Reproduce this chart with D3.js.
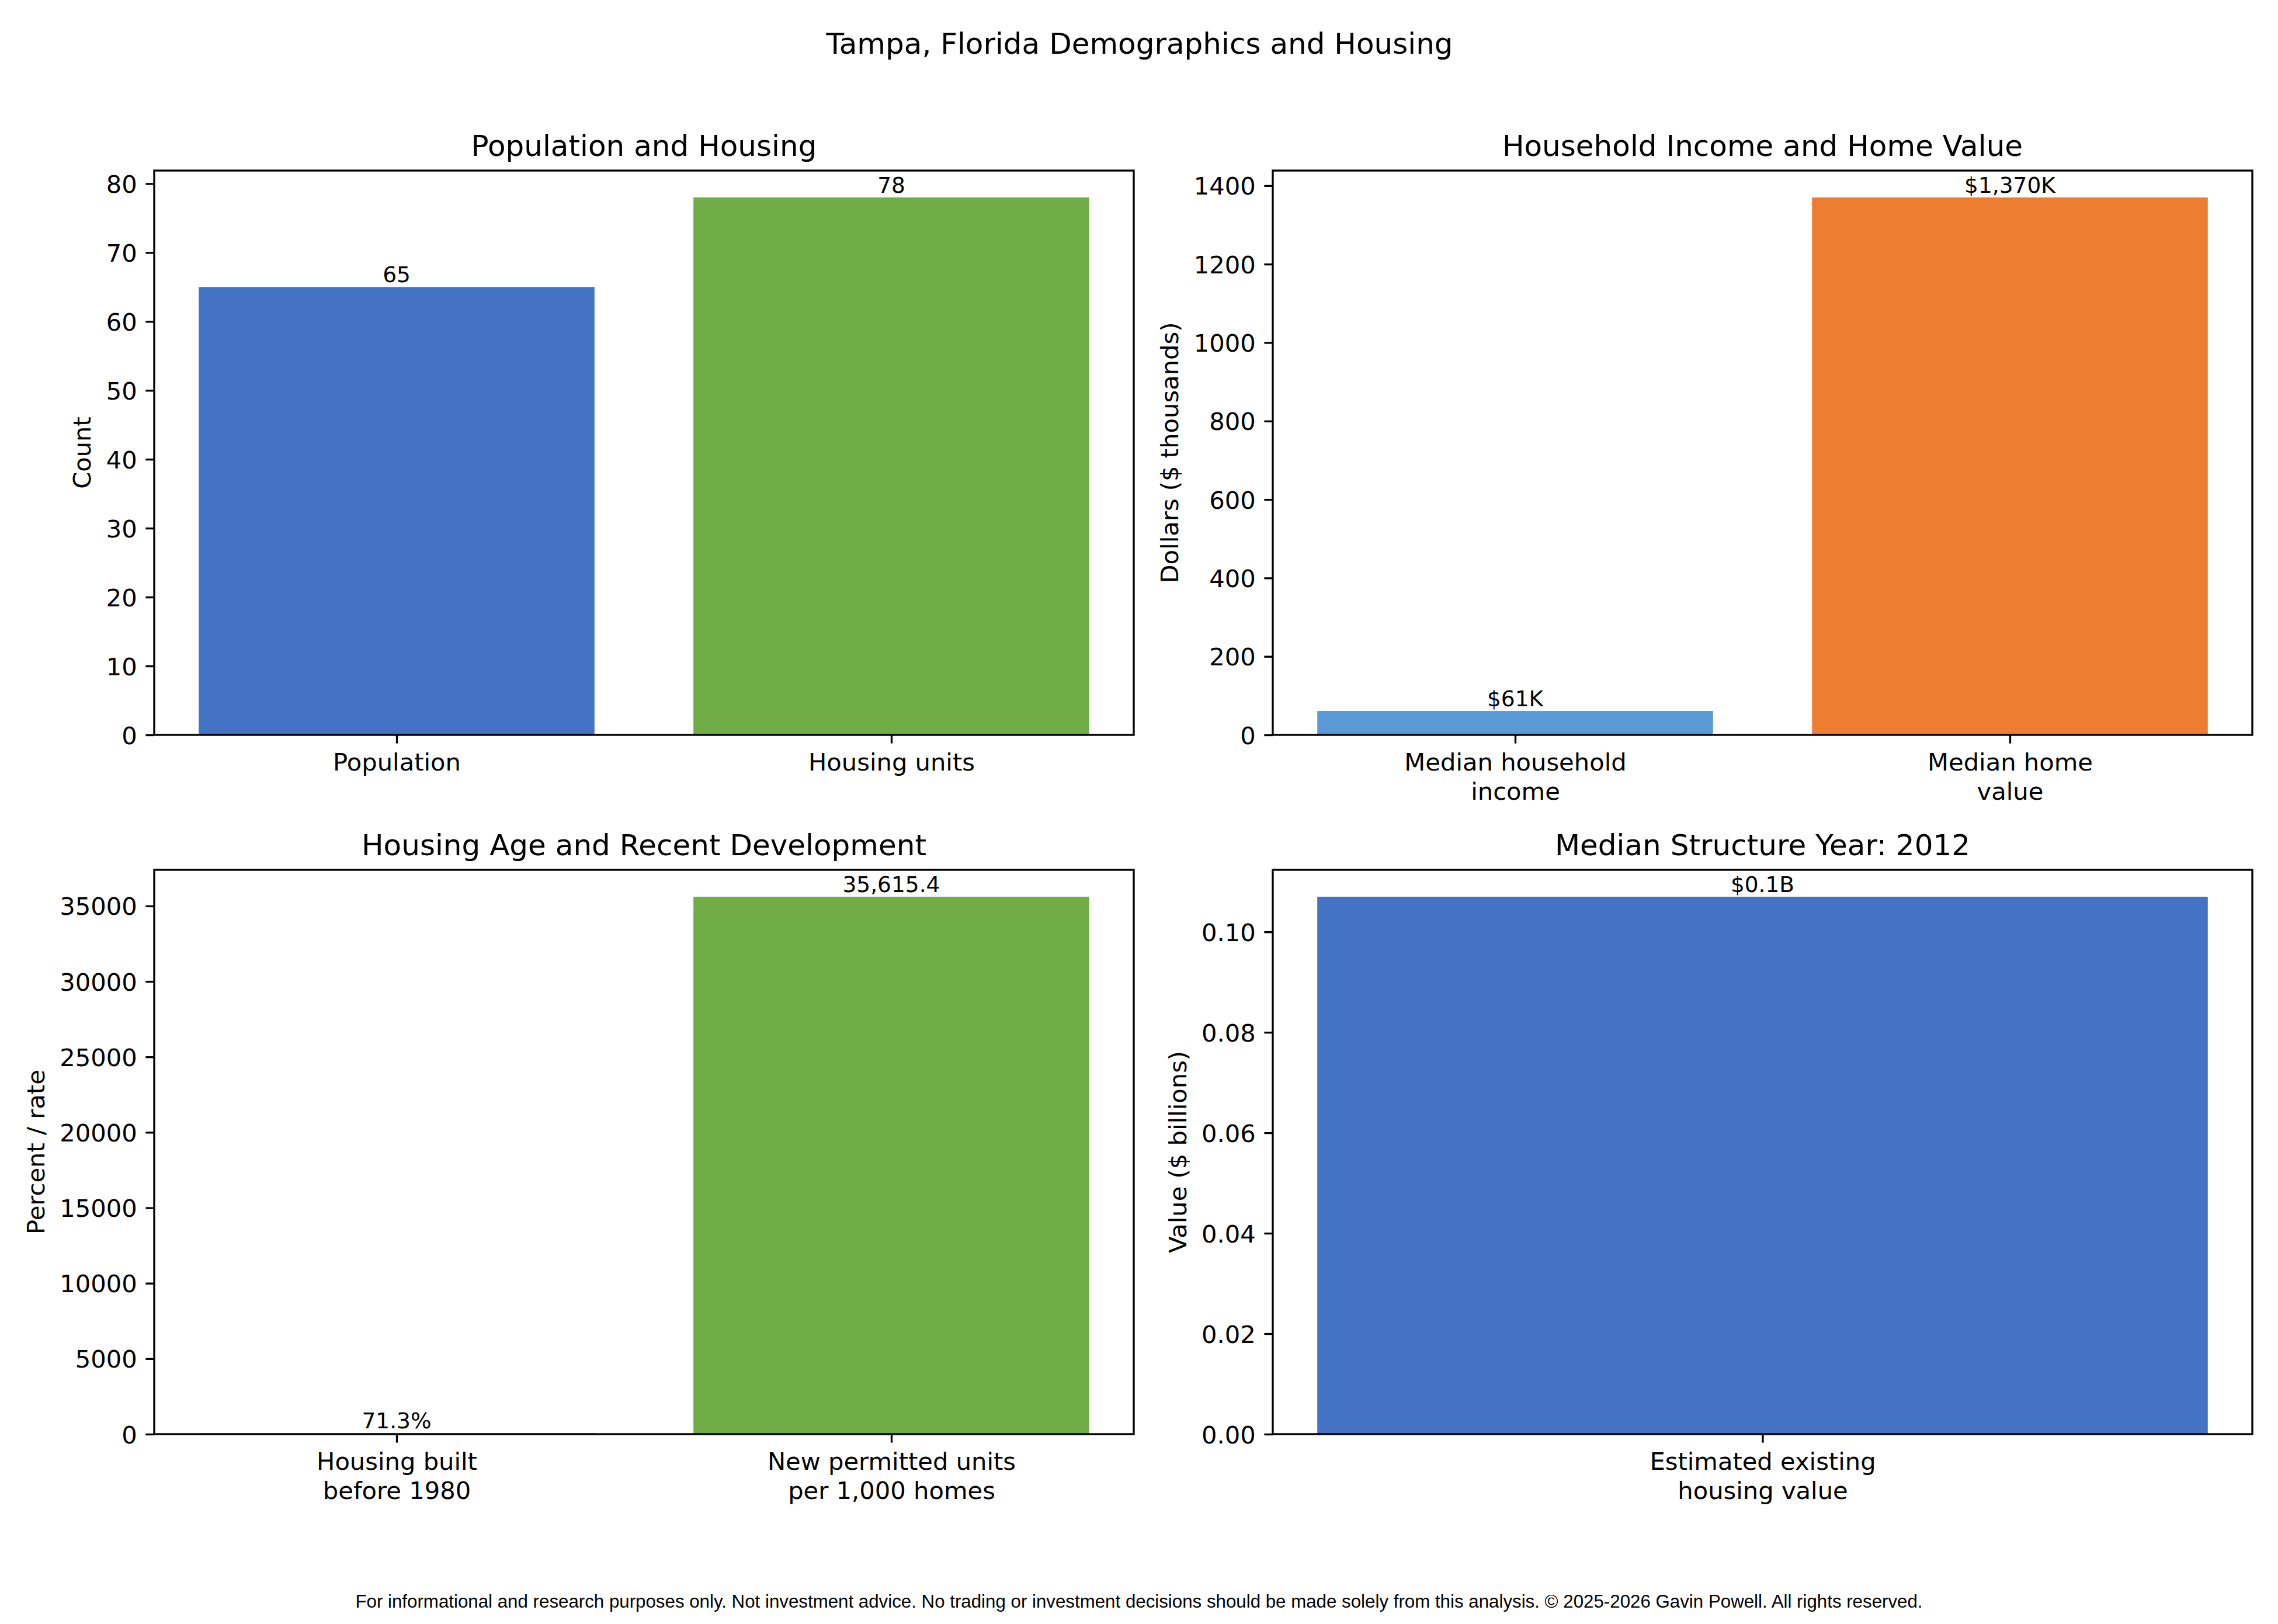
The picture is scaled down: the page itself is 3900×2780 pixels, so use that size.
<!DOCTYPE html>
<html>
<head>
<meta charset="utf-8">
<script src="https://cdn.jsdelivr.net/npm/d3@7"></script>
<style>
  body { margin: 0; background: #fff; }
  svg text { font-family: 'DejaVu Sans', sans-serif; fill: #000; }
  svg text.footer { font-family: 'Liberation Sans', Arial, sans-serif; }
</style>
</head>
<body>
<script>
// figure was saved at 300 dpi, so 1pt = 300/72 px
const W = 3900, H = 2780
const PT = 300 / 72

const suptitle = 'Tampa, Florida Demographics and Housing'
const footer = 'For informational and research purposes only. Not investment advice. No trading or investment decisions should be made solely from this analysis. \u00a9 2025-2026 Gavin Powell. All rights reserved.'

// top left
const popCats = ['Population', 'Housing units']
const popVals = [65, 78]
const popLabels = ['65', '78']
const popColors = ['#4472C4', '#70AD47']
const popTicks = [0, 10, 20, 30, 40, 50, 60, 70, 80]

// top right
const incomeCats = ['Median household\nincome', 'Median home\nvalue']
const incomeVals = [61, 1370]
const incomeLabels = ['$61K', '$1,370K']
const incomeColors = ['#5B9BD5', '#ED7D31']
const incomeTicks = [0, 200, 400, 600, 800, 1000, 1200, 1400]

// bottom left
const ageCats = ['Housing built\nbefore 1980', 'New permitted units\nper 1,000 homes']
const ageVals = [71.3, 35615.4]
const ageLabels = ['71.3%', '35,615.4']
const ageColors = ['#A5A5A5', '#70AD47']
const ageTicks = [0, 5000, 10000, 15000, 20000, 25000, 30000, 35000]

// bottom right
const valueCats = ['Estimated existing\nhousing value']
const valueVals = [0.107]
const valueLabels = ['$0.1B']
const valueColors = ['#4472C4']
const valueTicks = [0, 0.02, 0.04, 0.06, 0.08, 0.10]

const panels = [
  { title: 'Population and Housing', ylabel: 'Count', cats: popCats, vals: popVals,
    labels: popLabels, colors: popColors, ticks: popTicks, fmt: d3.format('d'), col: 0, row: 0 },
  { title: 'Household Income and Home Value', ylabel: 'Dollars ($ thousands)', cats: incomeCats, vals: incomeVals,
    labels: incomeLabels, colors: incomeColors, ticks: incomeTicks, fmt: d3.format('d'), col: 1, row: 0 },
  { title: 'Housing Age and Recent Development', ylabel: 'Percent / rate', cats: ageCats, vals: ageVals,
    labels: ageLabels, colors: ageColors, ticks: ageTicks, fmt: d3.format('d'), col: 0, row: 1 },
  { title: 'Median Structure Year: 2012', ylabel: 'Value ($ billions)', cats: valueCats, vals: valueVals,
    labels: valueLabels, colors: valueColors, ticks: valueTicks, fmt: d3.format('.2f'), col: 1, row: 1 }
]

const colLeft = [264, 2179]
const rowTop = [292, 1489]
const colW = 1677
const rowH = 966

const barW = 0.8
const tickLen = 3.5 * PT
const tickPad = 3.5 * PT
const lw = 0.8 * PT

const svg = d3.select('body').append('svg')
  .attr('width', W)
  .attr('height', H)
  .style('background', '#fff')

svg.append('text')
  .attr('x', 1951)
  .attr('y', 92)
  .attr('text-anchor', 'middle')
  .style('font-size', 12 * PT + 'px')
  .text(suptitle)

panels.forEach(p => {
  var g = svg.append('g')
    .attr('transform', 'translate(' + colLeft[p.col] + ',' + rowTop[p.row] + ')')

  // bars sit at 0..n-1, width 0.8, with 5% margins on the data range
  var n = p.cats.length
  var m = 0.05 * (n - 1 + barW)
  var x = d3.scaleLinear()
    .domain([-barW / 2 - m, n - 1 + barW / 2 + m])
    .range([0, colW])

  var y = d3.scaleLinear()
    .domain([0, d3.max(p.vals) * 1.05])
    .range([rowH, 0])

  g.selectAll('rect.bar')
    .data(p.vals)
    .join('rect')
      .attr('class', 'bar')
      .attr('x', (d, i) => x(i - barW / 2))
      .attr('width', (d, i) => x(i + barW / 2) - x(i - barW / 2))
      .attr('y', d => y(d))
      .attr('height', d => rowH - y(d))
      .attr('fill', (d, i) => p.colors[i])

  g.selectAll('text.barlabel')
    .data(p.vals)
    .join('text')
      .attr('class', 'barlabel')
      .attr('x', (d, i) => x(i))
      .attr('y', d => y(d) - 8)
      .attr('text-anchor', 'middle')
      .style('font-size', 9 * PT + 'px')
      .text((d, i) => p.labels[i])

  // y axis
  var yg = g.append('g')
    .call(d3.axisLeft(y)
      .tickValues(p.ticks)
      .tickFormat(p.fmt)
      .tickSize(tickLen)
      .tickPadding(tickPad))
    .attr('font-size', null)
    .attr('font-family', null)
  yg.select('.domain').remove()
  yg.selectAll('.tick line').attr('stroke', '#000').attr('stroke-width', lw)
  yg.selectAll('.tick text')
    .attr('dy', '0.36em')
    .style('font-size', 10 * PT + 'px')

  // x axis, labels can wrap on '\n'
  var xg = g.append('g')
    .attr('transform', 'translate(0,' + rowH + ')')
    .call(d3.axisBottom(x)
      .tickValues(d3.range(n))
      .tickFormat(i => p.cats[i])
      .tickSize(tickLen)
      .tickPadding(tickPad))
    .attr('font-size', null)
    .attr('font-family', null)
  xg.select('.domain').remove()
  xg.selectAll('.tick line').attr('stroke', '#000').attr('stroke-width', lw)
  xg.selectAll('.tick text').each(function(i) {
    var t = d3.select(this)
      .attr('dy', null)
      .style('font-size', 10 * PT + 'px')
      .text(null)
    p.cats[i].split('\n').forEach((line, k) => {
      t.append('tspan')
        .attr('x', 0)
        .attr('dy', k ? '1.2em' : '0.76em')
        .text(line)
    })
  })

  // frame
  g.append('rect')
    .attr('width', colW)
    .attr('height', rowH)
    .attr('fill', 'none')
    .attr('stroke', '#000')
    .attr('stroke-width', lw)

  g.append('text')
    .attr('x', colW / 2)
    .attr('y', -6 * PT)
    .attr('text-anchor', 'middle')
    .style('font-size', 12 * PT + 'px')
    .text(p.title)

  var maxW = d3.max(yg.selectAll('.tick text').nodes(), nd => nd.getBBox().width)
  var lx = -(tickLen + tickPad + maxW + 4 * PT + 0.236 * 10 * PT)

  g.append('text')
    .attr('transform', 'translate(' + lx + ',' + rowH / 2 + ') rotate(-90)')
    .attr('text-anchor', 'middle')
    .style('font-size', 10 * PT + 'px')
    .text(p.ylabel)
})

// footer, fitted to the width it has in the saved figure
var foot = svg.append('text')
  .attr('class', 'footer')
  .attr('x', 1950)
  .attr('y', 2752)
  .attr('text-anchor', 'middle')
  .style('font-size', '27px')
  .text(footer)
var fw = foot.node().getComputedTextLength()
foot.style('font-size', (27 * 2685 / fw) + 'px')
</script>
</body>
</html>
